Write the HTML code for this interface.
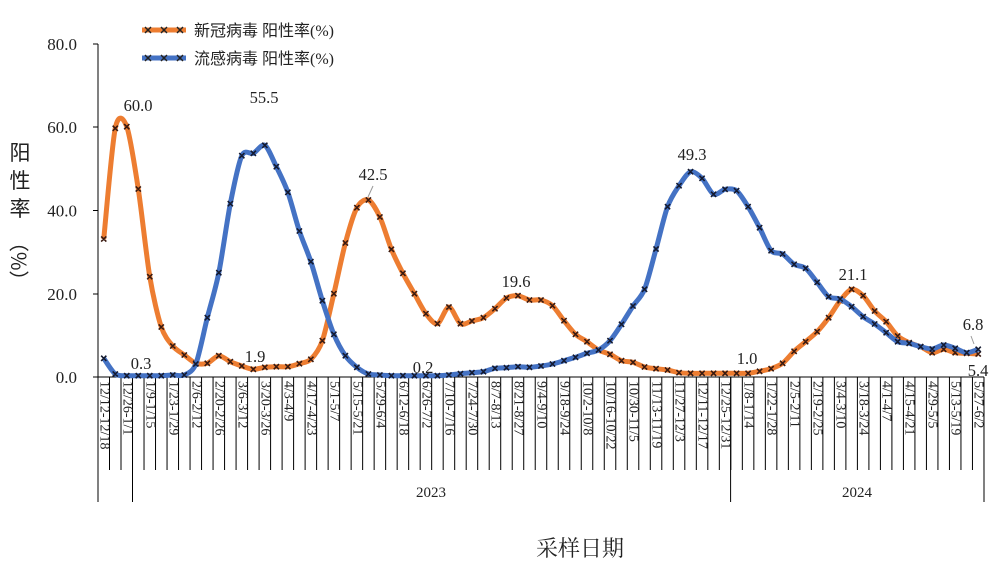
<!DOCTYPE html>
<html><head><meta charset="utf-8">
<style>
body{margin:0;background:#fff;}
svg{display:block;}
text{font-family:"Liberation Serif","Noto Serif CJK SC",serif;fill:#222;}
</style></head>
<body>
<svg id="s" width="1008" height="580" xmlns="http://www.w3.org/2000/svg">
<g id="g"></g>
</svg>
<script>
const NS="http://www.w3.org/2000/svg";
const g=document.getElementById('g');
function el(t,a,txt){const e=document.createElementNS(NS,t);for(const k in a)e.setAttribute(k,a[k]);if(txt!==undefined)e.textContent=txt;g.appendChild(e);return e;}
const X0=98,W=11.506,Y0=377;
const orange=[239,128.3,126.7,189,276.7,327,346,355,363.3,363.3,355.7,361.7,366,369.3,367.3,366.7,366.7,363.7,359.3,340.7,293.7,243,207.7,200,217,249.3,273.3,293.7,313.7,323.7,307,323.7,321,317.7,308.7,298,295.7,300,300,305.7,320.7,334.3,341.7,350,354.3,360.7,362.3,367,368.7,370,372.7,373.3,373.3,373.3,373.3,373.3,373.3,371.3,368.7,363.3,351.3,341.7,331.7,317.7,300.7,289.3,295.7,311,321.7,336,342.7,346.7,352.7,349.3,352.7,353.3,354];
const blue=[358.3,374,375.7,375.7,375.7,375.7,375,375,364,317.7,272.7,203.7,155.7,153.3,145.3,166.7,192.3,231,261.7,300.7,334.3,355.7,367.3,374,375,375.7,375.7,375.7,375.7,375.7,375,373.7,372.7,371.7,368.3,367.7,366.7,367.3,366,364,360.7,357.3,353.3,350,340.7,324.3,306,289.3,249,206.7,185.7,171.7,178.3,194.3,189.3,190.7,206.7,227.7,250.7,254,264.3,268.3,282.3,296.7,299,306.7,316.7,324,332.7,341.7,343.3,346.7,349,345,348.3,352.7,349.3];
const cx=i=>X0+W*(i+0.5);
el('line',{x1:98,y1:44,x2:98,y2:502,stroke:'#000','stroke-width':1});
el('line',{x1:98,y1:Y0,x2:984,y2:Y0,stroke:'#000','stroke-width':1});
[[80,44],[60,127],[40,210.5],[20,294],[0,377]].forEach(([v,y])=>{
 el('line',{x1:93,y1:y,x2:98,y2:y,stroke:'#000'});
 el('text',{x:77,y:y+6,'text-anchor':'end','font-size':17},v.toFixed(1));
});
for(let i=1;i<=77;i++){const x=X0+W*i;el('line',{x1:x,y1:Y0,x2:x,y2:470,stroke:'#000'});}
[98,132.5,730.6,984].forEach(x=>el('line',{x1:x,y1:Y0,x2:x,y2:502,stroke:'#000'}));
el('text',{x:431,y:497,'text-anchor':'middle','font-size':15},'2023');
el('text',{x:857,y:497,'text-anchor':'middle','font-size':15},'2024');
const st=new Date(2022,11,12);
function f(d){return (d.getMonth()+1)+'/'+d.getDate();}
for(let i=0;i<77;i+=2){const a=new Date(st.getTime()+i*7*864e5+3600e3);const b=new Date(a.getTime()+6*864e5);
 const x=cx(i);el('text',{x:x,y:381,'font-size':14,'dominant-baseline':'central',transform:`rotate(90 ${x} 381)`},f(a)+'-'+f(b));}
function path(ys){let p=`M${cx(0)},${ys[0]}`;const n=ys.length;
 for(let i=0;i<n-1;i++){const p0=[cx(Math.max(i-1,0)),ys[Math.max(i-1,0)]],p1=[cx(i),ys[i]],p2=[cx(i+1),ys[i+1]],p3=[cx(Math.min(i+2,n-1)),ys[Math.min(i+2,n-1)]];
 const t=1/7;p+=` C${p1[0]+(p2[0]-p0[0])*t},${p1[1]+(p2[1]-p0[1])*t} ${p2[0]-(p3[0]-p1[0])*t},${p2[1]-(p3[1]-p1[1])*t} ${p2[0]},${p2[1]}`;}
 return p;}
function marks(ys){let p='';ys.forEach((y,i)=>{const x=cx(i),r=2.6;p+=`M${x-r},${y-r}L${x+r},${y+r}M${x-r},${y+r}L${x+r},${y-r}`;});return p;}
el('path',{d:path(orange),fill:'none',stroke:'#ED7D31','stroke-width':5,'stroke-linejoin':'round'});
el('path',{d:marks(orange),stroke:'#3a1a10','stroke-width':1.6});
el('path',{d:path(blue),fill:'none',stroke:'#4472C4','stroke-width':5,'stroke-linejoin':'round'});
el('path',{d:marks(blue),stroke:'#141a30','stroke-width':1.6});
[['60.0',138,111],['0.3',141,369],['55.5',264,103],['1.9',255,362],['42.5',373,180],['0.2',423,373],['19.6',516,287],['49.3',692,160],['1.0',747,364],['21.1',853,280],['6.8',973,330],['5.4',978,376]].forEach(([t,x,y])=>el('text',{x:x,y:y,'text-anchor':'middle','font-size':16.5},t));
el('line',{x1:368,y1:197,x2:373,y2:186,stroke:'#999'});
el('line',{x1:974,y1:344,x2:971,y2:336,stroke:'#999'});
[[30,'#ED7D31','新冠病毒 阳性率(%)'],[58,'#4472C4','流感病毒 阳性率(%)']].forEach(([y,c,t])=>{
 el('line',{x1:142,y1:y,x2:186,y2:y,stroke:c,'stroke-width':5});
 el('path',{d:`M145,${y-3}L151,${y+3}M145,${y+3}L151,${y-3}M161,${y-3}L167,${y+3}M161,${y+3}L167,${y-3}M177,${y-3}L183,${y+3}M177,${y+3}L183,${y-3}`,stroke:'#222','stroke-width':1.5});
 el('text',{x:194,y:y+6,'font-size':16,style:'font-family:"Liberation Serif","Noto Sans CJK SC",sans-serif'},t);
});
[['阳',160],['性',188],['率',216]].forEach(([c,y])=>el('text',{x:20,y:y,'text-anchor':'middle','font-size':21,style:'font-family:"Noto Sans CJK SC",sans-serif'},c));
el('text',{x:20,y:232,'font-size':20,'dominant-baseline':'central',transform:'rotate(90 20 232)',style:'font-family:"Noto Sans CJK SC",sans-serif'},'（%）');
el('text',{x:580,y:556,'text-anchor':'middle','font-size':22,style:'font-family:"Noto Serif CJK SC","Noto Sans CJK SC",serif'},'采样日期');
</script>
</body></html>
